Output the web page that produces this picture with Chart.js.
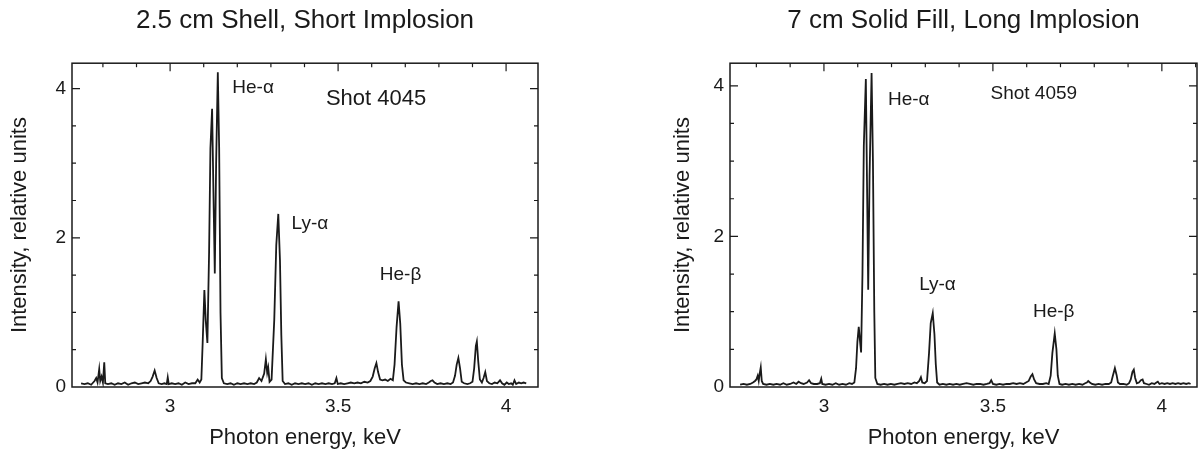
<!DOCTYPE html>
<html>
<head>
<meta charset="utf-8">
<script src="https://cdn.jsdelivr.net/npm/chart.js@4.4.1/dist/chart.umd.min.js"></script>
<style>
  html, body { margin: 0; padding: 0; background: #ffffff; }
  #wrap { position: relative; width: 1199px; height: 456px; overflow: hidden; background: #fff; }
  .box { position: absolute; top: 0; height: 456px; }
  #boxA { left: 0; width: 600px; }
  #boxB { left: 600px; width: 599px; }
</style>
</head>
<body>
<div id="wrap">
  <div class="box" id="boxA"><canvas id="chartA"></canvas></div>
  <div class="box" id="boxB"><canvas id="chartB"></canvas></div>
</div>
<script>
// ---------- Data: left panel (Shot 4045) ----------
const titleA = "2.5 cm Shell, Short Implosion";
const shotA = "Shot 4045";
const energyA = [
  2.735, 2.745, 2.755, 2.765, 2.775, 2.780, 2.784, 2.789, 2.792, 2.796, 2.800, 2.804, 2.807, 2.815, 2.825,
  2.835, 2.845, 2.855, 2.865, 2.875, 2.885, 2.895, 2.905, 2.915, 2.925, 2.935, 2.942, 2.948, 2.954, 2.960,
  2.966, 2.975, 2.983, 2.990, 2.993, 2.996, 3.005, 3.015, 3.025, 3.035, 3.045, 3.055, 3.065, 3.075, 3.082,
  3.088, 3.093, 3.097, 3.102, 3.106, 3.111, 3.116, 3.120, 3.125, 3.129, 3.133, 3.137, 3.142, 3.146, 3.150,
  3.154, 3.160, 3.170, 3.180, 3.190, 3.200, 3.210, 3.220, 3.230, 3.240, 3.250, 3.258, 3.265, 3.272, 3.280,
  3.285, 3.289, 3.292, 3.296, 3.302, 3.310, 3.316, 3.322, 3.327, 3.331, 3.335, 3.342, 3.352, 3.362, 3.372,
  3.382, 3.392, 3.402, 3.412, 3.422, 3.432, 3.442, 3.452, 3.462, 3.472, 3.482, 3.490, 3.495, 3.499, 3.508,
  3.518, 3.528, 3.538, 3.548, 3.558, 3.568, 3.578, 3.588, 3.596, 3.603, 3.609, 3.614, 3.619, 3.625, 3.632,
  3.640, 3.648, 3.656, 3.663, 3.668, 3.674, 3.680, 3.685, 3.690, 3.695, 3.702, 3.712, 3.722, 3.732, 3.742,
  3.752, 3.762, 3.770, 3.776, 3.781, 3.787, 3.795, 3.805, 3.815, 3.825, 3.835, 3.842, 3.848, 3.853, 3.858,
  3.863, 3.868, 3.875, 3.885, 3.893, 3.900, 3.905, 3.910, 3.913, 3.917, 3.922, 3.928, 3.933, 3.938, 3.943,
  3.950, 3.958, 3.966, 3.974, 3.982, 3.988, 3.995, 4.002, 4.008, 4.015, 4.020, 4.025, 4.030, 4.038, 4.045,
  4.052, 4.060
];
const intensityA = [
  0.05, 0.04, 0.05, 0.03, 0.08, 0.12, 0.06, 0.24, 0.08, 0.14, 0.06, 0.33, 0.05, 0.04, 0.05,
  0.03, 0.05, 0.04, 0.06, 0.03, 0.05, 0.06, 0.04, 0.05, 0.06, 0.05, 0.08, 0.14, 0.22, 0.12,
  0.05, 0.04, 0.05, 0.04, 0.13, 0.04, 0.05, 0.04, 0.05, 0.03, 0.06, 0.04, 0.05, 0.05, 0.10,
  0.06, 0.10, 0.60, 1.30, 0.90, 0.59, 1.80, 3.20, 3.73, 2.60, 1.52, 3.00, 4.22, 3.20, 1.00,
  0.12, 0.05, 0.04, 0.05, 0.03, 0.05, 0.04, 0.05, 0.04, 0.05, 0.04, 0.06, 0.12, 0.08, 0.18,
  0.37, 0.19, 0.26, 0.07, 0.10, 0.90, 1.90, 2.32, 1.70, 0.70, 0.08, 0.04, 0.05, 0.03, 0.05,
  0.04, 0.05, 0.04, 0.05, 0.03, 0.05, 0.04, 0.05, 0.04, 0.05, 0.04, 0.05, 0.12, 0.04, 0.05,
  0.04, 0.05, 0.06, 0.05, 0.06, 0.05, 0.07, 0.06, 0.08, 0.14, 0.25, 0.32, 0.20, 0.10, 0.09,
  0.10, 0.08, 0.11, 0.09, 0.30, 0.80, 1.15, 0.85, 0.30, 0.09, 0.06, 0.05, 0.04, 0.05, 0.04,
  0.05, 0.04, 0.06, 0.08, 0.09, 0.06, 0.04, 0.05, 0.04, 0.05, 0.04, 0.06, 0.15, 0.30, 0.39,
  0.25, 0.07, 0.05, 0.04, 0.05, 0.07, 0.25, 0.55, 0.61, 0.35, 0.10, 0.06, 0.12, 0.20, 0.08,
  0.05, 0.04, 0.06, 0.05, 0.09, 0.05, 0.03, 0.06, 0.04, 0.05, 0.03, 0.09, 0.04, 0.06, 0.05,
  0.06, 0.05
];

// ---------- Data: right panel (Shot 4059) ----------
const titleB = "7 cm Solid Fill, Long Implosion";
const shotB = "Shot 4059";
const energyB = [
  2.752, 2.762, 2.772, 2.782, 2.790, 2.796, 2.800, 2.804, 2.807, 2.810, 2.813, 2.816, 2.820, 2.830, 2.840,
  2.850, 2.860, 2.870, 2.880, 2.890, 2.900, 2.910, 2.918, 2.925, 2.932, 2.940, 2.950, 2.956, 2.962, 2.970,
  2.980, 2.988, 2.992, 2.995, 3.005, 3.015, 3.025, 3.035, 3.045, 3.055, 3.065, 3.075, 3.083, 3.090, 3.095,
  3.099, 3.103, 3.107, 3.110, 3.114, 3.118, 3.124, 3.128, 3.131, 3.135, 3.141, 3.145, 3.149, 3.152, 3.158,
  3.168, 3.178, 3.188, 3.198, 3.208, 3.218, 3.228, 3.238, 3.248, 3.258, 3.268, 3.275, 3.282, 3.287, 3.291,
  3.298, 3.305, 3.311, 3.316, 3.322, 3.327, 3.331, 3.335, 3.342, 3.352, 3.362, 3.372, 3.382, 3.392, 3.402,
  3.412, 3.422, 3.432, 3.442, 3.452, 3.462, 3.472, 3.482, 3.490, 3.495, 3.500, 3.510, 3.520, 3.530, 3.540,
  3.550, 3.560, 3.570, 3.580, 3.590, 3.598, 3.606, 3.612, 3.617, 3.622, 3.628, 3.638, 3.648, 3.658, 3.665,
  3.671, 3.676, 3.683, 3.688, 3.692, 3.697, 3.705, 3.715, 3.725, 3.735, 3.745, 3.755, 3.765, 3.773, 3.778,
  3.782, 3.787, 3.793, 3.803, 3.813, 3.823, 3.833, 3.843, 3.850, 3.855, 3.861, 3.866, 3.870, 3.876, 3.886,
  3.896, 3.903, 3.908, 3.913, 3.917, 3.921, 3.926, 3.932, 3.938, 3.943, 3.947, 3.955, 3.962, 3.970, 3.978,
  3.984, 3.988, 3.993, 4.000, 4.008, 4.016, 4.024, 4.032, 4.040, 4.048, 4.056, 4.064, 4.072, 4.080, 4.085
];
const intensityB = [
  0.03, 0.04, 0.03, 0.04, 0.06, 0.08, 0.10, 0.15, 0.08, 0.18, 0.26, 0.08, 0.04, 0.03, 0.04,
  0.03, 0.04, 0.03, 0.05, 0.03, 0.04, 0.06, 0.04, 0.07, 0.05, 0.04, 0.06, 0.09, 0.05, 0.04,
  0.04, 0.05, 0.11, 0.04, 0.03, 0.04, 0.03, 0.05, 0.03, 0.04, 0.03, 0.05, 0.04, 0.06, 0.25,
  0.60, 0.80, 0.60, 0.46, 1.50, 3.20, 4.09, 2.50, 1.29, 2.80, 4.17, 3.00, 1.00, 0.12, 0.04,
  0.03, 0.04, 0.03, 0.04, 0.03, 0.04, 0.05, 0.04, 0.05, 0.04, 0.06, 0.05, 0.08, 0.13, 0.06,
  0.05, 0.08, 0.45, 0.85, 0.98, 0.70, 0.30, 0.06, 0.03, 0.04, 0.03, 0.04, 0.03, 0.04, 0.03,
  0.04, 0.05, 0.04, 0.03, 0.04, 0.04, 0.03, 0.04, 0.05, 0.09, 0.04, 0.03, 0.04, 0.03, 0.04,
  0.04, 0.05, 0.04, 0.05, 0.04, 0.06, 0.08, 0.14, 0.17, 0.10, 0.05, 0.04, 0.04, 0.05, 0.04,
  0.15, 0.45, 0.71, 0.50, 0.15, 0.04, 0.03, 0.04, 0.03, 0.04, 0.03, 0.04, 0.03, 0.05, 0.06,
  0.08, 0.06, 0.04, 0.03, 0.04, 0.03, 0.04, 0.04, 0.06, 0.15, 0.25, 0.16, 0.06, 0.04, 0.04,
  0.03, 0.05, 0.10, 0.20, 0.23, 0.12, 0.05, 0.06, 0.09, 0.10, 0.05, 0.04, 0.03, 0.05, 0.04,
  0.06, 0.07, 0.04, 0.05, 0.04, 0.05, 0.04, 0.05, 0.04, 0.05, 0.04, 0.05, 0.04, 0.05, 0.04
];

// ---------- Tick labels / annotations ----------
const xTickValues = [3, 3.5, 4];
const yTickValues = [0, 2, 4];
const lineLabels = ["He-\u03B1", "Ly-\u03B1", "He-\u03B2"];
const annotA = [
  { text: lineLabels[0], e: 3.247, v: 4.01, size: 19 },
  { text: lineLabels[1], e: 3.416, v: 2.19, size: 19 },
  { text: lineLabels[2], e: 3.686, v: 1.50, size: 19 },
  { text: shotA,         e: 3.613, v: 3.86, size: 22 }
];
const annotB = [
  { text: lineLabels[0], e: 3.251, v: 3.81, size: 19 },
  { text: lineLabels[1], e: 3.336, v: 1.36, size: 19 },
  { text: lineLabels[2], e: 3.680, v: 1.00, size: 19 },
  { text: shotB,         e: 3.621, v: 3.90, size: 19 }
];

const FONT = "'Liberation Sans', Arial, Helvetica, sans-serif";
const INK = '#1a1a1a';

// Frame, inward ticks and in-plot labels, positioned through the chart's scales
const framePlugin = {
  id: 'frame',
  afterDatasetsDraw(chart, args, opts) {
    const ctx = chart.ctx;
    const a = chart.chartArea;
    const xs = chart.scales.x, ys = chart.scales.y;
    ctx.save();
    ctx.strokeStyle = INK;
    ctx.lineWidth = 1.5;
    ctx.strokeRect(a.left, a.top, a.right - a.left, a.bottom - a.top);
    ctx.lineWidth = 1.2;
    // top ticks every 0.1 keV
    for (let k = Math.ceil(xs.min * 10); k <= Math.floor(xs.max * 10); k++) {
      const val = k / 10;
      const px = xs.getPixelForValue(val);
      const major = (k % 5 === 0);
      const len = major ? 8 : 4;
      ctx.beginPath();
      ctx.moveTo(px, a.top);
      ctx.lineTo(px, a.top + len);
      ctx.stroke();
    }
    // left / right ticks every 0.5
    for (let k = 1; k <= Math.floor(ys.max * 2); k++) {
      const val = k / 2;
      const py = ys.getPixelForValue(val);
      const major = (k % 4 === 0);
      const len = major ? 8 : 4;
      ctx.beginPath();
      ctx.moveTo(a.left, py); ctx.lineTo(a.left + len, py);
      ctx.moveTo(a.right, py); ctx.lineTo(a.right - len, py);
      ctx.stroke();
    }
    // annotations
    ctx.fillStyle = INK;
    ctx.textAlign = 'center';
    ctx.textBaseline = 'middle';
    (opts.labels || []).forEach(l => {
      ctx.font = l.size + 'px ' + FONT;
      ctx.fillText(l.text, xs.getPixelForValue(l.e), ys.getPixelForValue(l.v));
    });
    ctx.restore();
  }
};

function makeChart(id, title, energy, intensity, xMin, xMax, yMax, yWidth, yTitlePad, padL, padR, labels) {
  const pts = energy.map((e, i) => ({ x: e, y: intensity[i] }));
  return new Chart(document.getElementById(id), {
    type: 'line',
    data: {
      datasets: [{
        data: pts,
        borderColor: INK,
        borderWidth: 1.8,
        pointRadius: 0,
        tension: 0,
        fill: false
      }]
    },
    options: {
      responsive: true,
      maintainAspectRatio: false,
      animation: false,
      events: [],
      layout: { padding: { left: padL, right: padR, top: 0, bottom: 0 } },
      plugins: {
        legend: { display: false },
        tooltip: { enabled: false },
        title: {
          display: true,
          text: title,
          fullSize: false,
          color: INK,
          font: { family: FONT, size: 26, weight: 'normal' },
          padding: { top: 5, bottom: 27 }
        },
        frame: { labels: labels }
      },
      scales: {
        x: {
          type: 'linear',
          min: xMin,
          max: xMax,
          afterBuildTicks: s => { s.ticks = xTickValues.map(v => ({ value: v })); },
          afterFit: s => { s.height = 69; },
          grid: { display: false, drawTicks: false },
          border: { display: false },
          ticks: {
            color: INK,
            padding: 8,
            maxRotation: 0,
            autoSkip: false,
            font: { family: FONT, size: 19 },
            callback: v => String(v)
          },
          title: {
            display: true,
            text: 'Photon energy, keV',
            color: INK,
            font: { family: FONT, size: 22 },
            padding: { top: 0, bottom: 5 }
          }
        },
        y: {
          type: 'linear',
          min: 0,
          max: yMax,
          afterBuildTicks: s => { s.ticks = yTickValues.map(v => ({ value: v })); },
          afterFit: s => { s.width = yWidth; },
          grid: { display: false, drawTicks: false },
          border: { display: false },
          ticks: {
            color: INK,
            padding: 6,
            autoSkip: false,
            font: { family: FONT, size: 19 },
            callback: v => String(v)
          },
          title: {
            display: true,
            text: 'Intensity, relative units',
            color: INK,
            font: { family: FONT, size: 22 },
            padding: { top: yTitlePad, bottom: 0 }
          }
        }
      }
    },
    plugins: [framePlugin]
  });
}

makeChart('chartA', titleA, energyA, intensityA, 2.708, 4.095, 4.34, 72, 7, 0, 62, annotA);
makeChart('chartB', titleB, energyB, intensityB, 2.722, 4.104, 4.30, 70, 10, 60, 2, annotB);
</script>
</body>
</html>
